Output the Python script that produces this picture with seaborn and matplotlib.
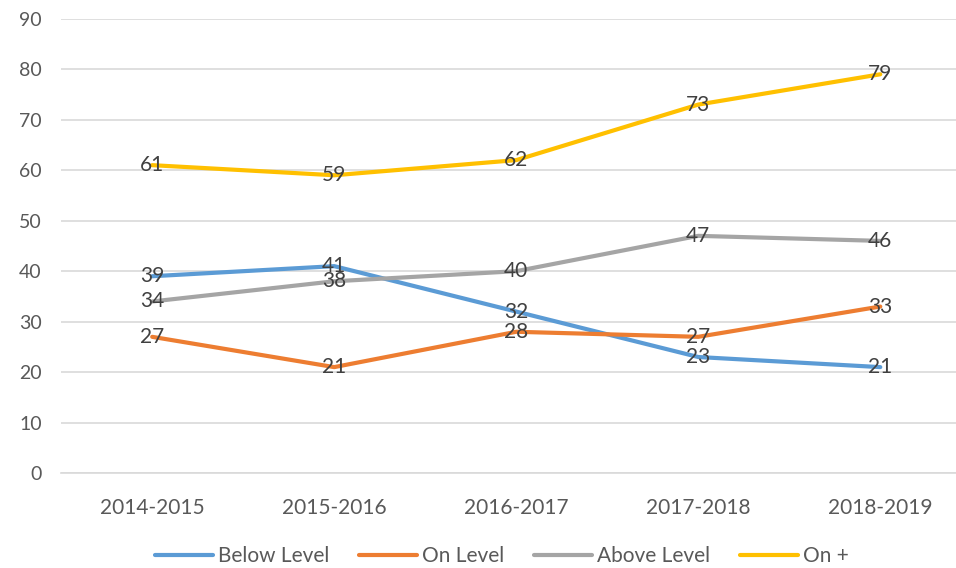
import matplotlib.pyplot as plt
import pandas as pd
import seaborn as sns

years = ["2014-2015", "2015-2016", "2016-2017", "2017-2018", "2018-2019"]
below_level = [39, 41, 32, 23, 21]
on_level = [27, 21, 28, 27, 33]
above_level = [34, 38, 40, 47, 46]
on_plus = [61, 59, 62, 73, 79]

series = ["Below Level", "On Level", "Above Level", "On +"]
colors = ["#5B9BD5", "#ED7D31", "#A5A5A5", "#FFC000"]

rows = []
for name, vals in zip(series, [below_level, on_level, above_level, on_plus]):
    for i, v in enumerate(vals):
        rows.append({"year": i, "value": v, "series": name})
df = pd.DataFrame(rows)

sns.set_theme(style="white")
plt.rcParams['font.family'] = ['Lato', 'DejaVu Sans']

fig = plt.figure(figsize=(9.56, 5.68), dpi=100)
ax = fig.add_axes([0.064, 0.167, 0.952, 0.8])

sns.lineplot(data=df, x="year", y="value", hue="series", hue_order=series,
             palette=colors, linewidth=3, ax=ax, legend=False)

for name in series:
    sub = df[df["series"] == name]
    for x, y in zip(sub["year"], sub["value"]):
        ax.text(x, y, str(y), ha="center", va="center", fontsize=15, color="#404040")

ax.set_xlim(-0.5, 4.5)
ax.set_ylim(0, 90)
ax.set_yticks(range(0, 91, 10))
ax.set_xticks(range(5))
ax.set_xticklabels(years)
ax.tick_params(axis="both", labelsize=14, colors="#595959", length=0)
ax.tick_params(axis="x", pad=18, labelsize=15)
ax.tick_params(axis="y", pad=14)
ax.yaxis.grid(True, color="#D9D9D9", linewidth=1.2)
ax.set_xlabel("")
ax.set_ylabel("")
for s in ["top", "right", "left"]:
    ax.spines[s].set_visible(False)
ax.spines["bottom"].set_color("#D9D9D9")
ax.spines["bottom"].set_linewidth(1.2)

handles = [plt.Line2D([], [], color=c, linewidth=3) for c in colors]
fig.legend(handles, series, loc="lower center", bbox_to_anchor=(0.525, -0.03), ncol=4,
           frameon=False, fontsize=15, handlelength=2.8, columnspacing=1.4,
           handletextpad=0.25, labelcolor="#595959")

fig.savefig("out.png", dpi=100)
